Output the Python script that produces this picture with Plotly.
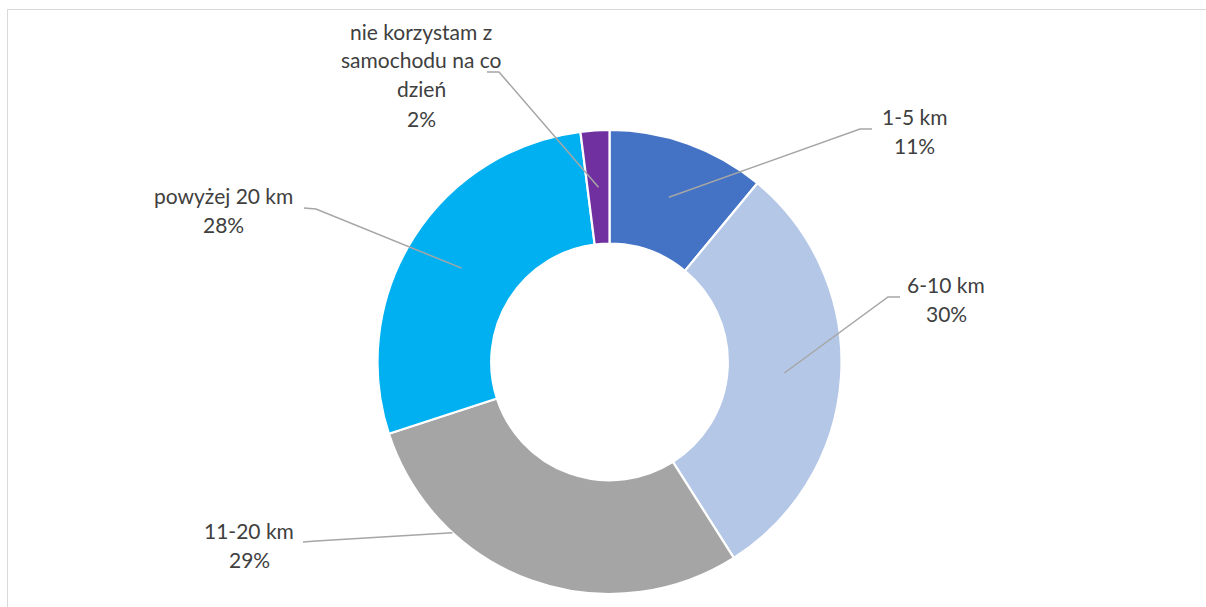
import math
import plotly.graph_objects as go

# ---- data ----
categories = ["1-5 km", "6-10 km", "11-20 km", "powyżej 20 km", "nie korzystam z samochodu na co dzień"]
values = [11, 30, 29, 28, 2]
percent_labels = ["11%", "30%", "29%", "28%", "2%"]
label_lines = [["1-5 km"], ["6-10 km"], ["11-20 km"], ["powyżej 20 km"],
               ["nie korzystam z", "samochodu na co", "dzień"]]
colors = ["#4472C4", "#B4C7E7", "#A5A5A5", "#00B0F0", "#7030A0"]

# ---- layout constants (pixels) ----
W, H = 1206, 607
CX, CY = 609.5, 362.0
R_OUT = 232.0
HOLE = 0.51
R_IN = R_OUT * HOLE
R_MID = (R_OUT + R_IN) / 2

# label text centre (x, y of first line), leader start, elbow, anchor mode
label_pos = [
    dict(x=914, y=116, start=(872, 129), elbow=(860, 129), mode="mid"),
    dict(x=946, y=284, start=(900, 297), elbow=(888, 297), mode="mid"),
    dict(x=249, y=530, start=(303, 542), elbow=(316, 541), mode="edge"),
    dict(x=223, y=195, start=(304, 208), elbow=(316, 209), mode="mid"),
    dict(x=421, y=31, start=(487, 72), elbow=(499, 72), mode="mid"),
]
LINE_GAP = 29
FONT = "Lato, Carlito, Calibri, sans-serif"
FSIZE = 21
TXT_COLOR = "#404040"
LEADER_COLOR = "#A6A6A6"


def px(x, y):
    return x / W, 1 - y / H


fig = go.Figure()
fig.add_trace(go.Pie(
    labels=categories, values=values, sort=False, direction="clockwise", rotation=0,
    hole=HOLE, textinfo="none", hoverinfo="label+percent",
    marker=dict(colors=colors, line=dict(color="white", width=2.2)),
    domain=dict(x=[(CX - R_OUT) / W, (CX + R_OUT) / W],
                y=[(H - CY - R_OUT) / H, (H - CY + R_OUT) / H]),
    showlegend=False,
))

total = sum(values)
cum = 0
shapes = []
annotations = []
for i, v in enumerate(values):
    theta = 2 * math.pi * (cum + v / 2) / total
    cum += v
    mx = CX + R_MID * math.sin(theta)
    my = CY - R_MID * math.cos(theta)
    lp = label_pos[i]
    ex, ey = lp["elbow"]
    if lp["mode"] == "edge":
        # clip the line from the elbow toward the slice middle at the outer rim
        dx, dy = mx - ex, my - ey
        fx, fy = ex - CX, ey - CY
        a = dx * dx + dy * dy
        b = 2 * (fx * dx + fy * dy)
        c = fx * fx + fy * fy - R_OUT * R_OUT
        t = (-b - math.sqrt(b * b - 4 * a * c)) / (2 * a)
        mx, my = ex + t * dx, ey + t * dy
    sx, sy = lp["start"]
    p = [px(sx, sy), px(ex, ey), px(mx, my)]
    path = "M {:.5f} {:.5f} L {:.5f} {:.5f} L {:.5f} {:.5f}".format(
        p[0][0], p[0][1], p[1][0], p[1][1], p[2][0], p[2][1])
    shapes.append(dict(type="path", path=path, xref="paper", yref="paper",
                       line=dict(color=LEADER_COLOR, width=1.5)))
    lines = label_lines[i] + [percent_labels[i]]
    for k, t in enumerate(lines):
        ax, ay = px(lp["x"], lp["y"] + k * LINE_GAP)
        annotations.append(dict(text=t, x=ax, y=ay, xref="paper", yref="paper",
                                xanchor="center", yanchor="middle", showarrow=False,
                                font=dict(family=FONT, size=FSIZE, color=TXT_COLOR)))

# chart frame (left and top edges visible)
fx0, fy0 = px(7.5, 9.5)
shapes.append(dict(type="path",
                   path="M {:.5f} 0 L {:.5f} {:.5f} L 1 {:.5f}".format(fx0, fx0, fy0, fy0),
                   xref="paper", yref="paper", line=dict(color="#D9D9D9", width=1)))

fig.update_layout(width=W, height=H, margin=dict(l=0, r=0, t=0, b=0),
                  paper_bgcolor="white", plot_bgcolor="white",
                  shapes=shapes, annotations=annotations)
fig.write_html("out.html", config={"displayModeBar": False},
               post_script="document.body.style.margin='0';")
